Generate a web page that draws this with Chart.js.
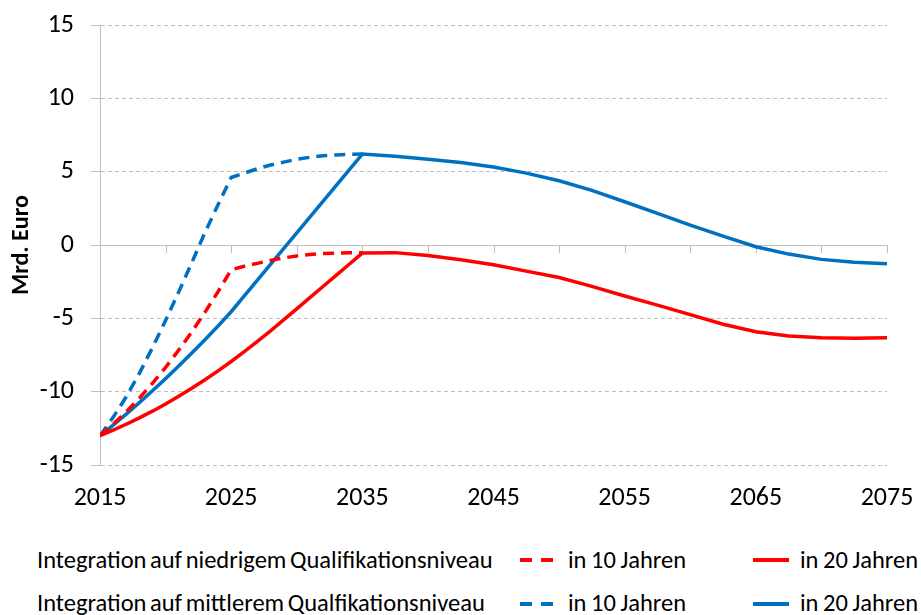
<!DOCTYPE html>
<html lang="de">
<head>
<meta charset="utf-8">
<script src="https://cdn.jsdelivr.net/npm/chart.js@4/dist/chart.umd.min.js"></script>
<style>
  body { margin: 0; background: #fff; font-family: Carlito, Lato, "Liberation Sans", sans-serif; }
  #wrap { position: relative; width: 921px; height: 615px; overflow: hidden; }
  #box { position: absolute; left: 0; top: 0; width: 921px; height: 515px; }
  .lg { position: absolute; font-size: 24.5px; color: #000; white-space: nowrap; line-height: 30px; word-spacing: -1px; }
  .lg.lang { word-spacing: -2px; }
  svg.lg { line-height: 0; }
</style>
</head>
<body>
<div id="wrap">
  <div id="box"><canvas id="chart"></canvas></div>
  <div class="lg lang" style="left:37px; top:545px;">Integration auf niedrigem Qualifikationsniveau</div>
  <svg class="lg" style="left:518px; top:556px;" width="40" height="8"><line x1="2" y1="4" x2="38" y2="4" stroke="#ff0000" stroke-width="4" stroke-dasharray="12,9"/></svg>
  <div class="lg" style="left:568px; top:545px;">in 10 Jahren</div>
  <svg class="lg" style="left:751px; top:556px;" width="40" height="8"><line x1="2" y1="4" x2="38" y2="4" stroke="#ff0000" stroke-width="4"/></svg>
  <div class="lg" style="left:800px; top:545px;">in 20 Jahren</div>

  <div class="lg lang" style="left:37px; top:588px;">Integration auf mittlerem Qualfikationsniveau</div>
  <svg class="lg" style="left:518px; top:600px;" width="40" height="8"><line x1="2" y1="4" x2="38" y2="4" stroke="#0070c0" stroke-width="4" stroke-dasharray="12,9"/></svg>
  <div class="lg" style="left:568px; top:588px;">in 10 Jahren</div>
  <svg class="lg" style="left:751px; top:600px;" width="40" height="8"><line x1="2" y1="4" x2="38" y2="4" stroke="#0070c0" stroke-width="4"/></svg>
  <div class="lg" style="left:800px; top:588px;">in 20 Jahren</div>
</div>
<script>
// Jahre für die 10-Jahres-Varianten (gestrichelt)
const jahre10 = [2015, 2016, 2017, 2018, 2019, 2020, 2021, 2022, 2023, 2024, 2025,
  2026, 2027, 2028, 2029, 2030, 2031, 2032, 2033, 2034, 2035];
// Jahre für die 20-Jahres-Varianten (durchgezogen)
const jahre20 = [2015, 2016, 2017, 2018, 2019, 2020, 2021, 2022, 2023, 2024, 2025,
  2026, 2027, 2028, 2029, 2030, 2031, 2032, 2033, 2034, 2035,
  2037.5, 2040, 2042.5, 2045, 2047.5, 2050, 2052.5, 2055, 2057.5, 2060,
  2062.5, 2065, 2067.5, 2070, 2072.5, 2075];

const niedrig10 = [-13, -12.22, -11.37, -10.44, -9.43, -8.34, -7.17, -5.92, -4.59, -3.18, -1.69,
  -1.45, -1.25, -1.05, -0.88, -0.75, -0.65, -0.58, -0.55, -0.53, -0.52];
const mittel10 = [-13, -11.75, -10.35, -8.75, -7.0, -5.15, -3.2, -1.2, 0.85, 2.75, 4.6,
  4.9, 5.2, 5.45, 5.65, 5.85, 5.98, 6.08, 6.14, 6.18, 6.2];
const niedrig20 = [-13, -12.62, -12.22, -11.79, -11.33, -10.84, -10.32, -9.77, -9.19, -8.58, -7.94,
  -7.27, -6.57, -5.85, -5.11, -4.35, -3.59, -2.83, -2.07, -1.31, -0.55,
  -0.52, -0.72, -1.0, -1.35, -1.78, -2.22, -2.82, -3.48, -4.1, -4.75,
  -5.4, -5.92, -6.2, -6.32, -6.35, -6.32];
const mittel20 = [-13, -12.28, -11.53, -10.75, -9.94, -9.11, -8.25, -7.37, -6.46, -5.52, -4.55,
  -3.47, -2.4, -1.32, -0.25, 0.83, 1.9, 2.98, 4.05, 5.13, 6.2,
  6.05, 5.85, 5.62, 5.32, 4.9, 4.38, 3.72, 2.95, 2.15, 1.35,
  0.6, -0.12, -0.62, -0.98, -1.18, -1.27];

const yTicks = [-15, -10, -5, 0, 5, 10, 15];
const xLabelJahre = [2015, 2025, 2035, 2045, 2055, 2065, 2075];

function punkte(jahre, werte) {
  return jahre.map((j, i) => ({ x: j, y: werte[i] }));
}

const schrift = "Carlito, Lato, 'Liberation Sans', sans-serif";
const rot = '#ff0000';
const blau = '#0070c0';
const grau = '#bfbfbf';

// solide Achse bei 0 mit Teilstrichen alle 5 Jahre
const nullAchse = {
  id: 'nullAchse',
  beforeDatasetsDraw(chart) {
    const ctx = chart.ctx;
    const xs = chart.scales.x;
    const y0 = Math.round(chart.scales.y.getPixelForValue(0));
    ctx.save();
    ctx.strokeStyle = grau;
    ctx.lineWidth = 1;
    ctx.beginPath();
    ctx.moveTo(xs.left, y0 + 0.5);
    ctx.lineTo(xs.right, y0 + 0.5);
    for (let j = 2015; j <= 2075; j += 5) {
      const px = Math.round(xs.getPixelForValue(j)) + 0.5;
      ctx.moveTo(px, y0);
      ctx.lineTo(px, y0 + 8);
    }
    ctx.stroke();
    ctx.restore();
  }
};

const ctx = document.getElementById('chart').getContext('2d');
const chart = new Chart(ctx, {
  type: 'line',
  data: {
    datasets: [
      {
        label: 'niedrig, in 20 Jahren',
        data: punkte(jahre20, niedrig20),
        borderColor: rot,
        borderWidth: 3.5,
        pointRadius: 0,
        fill: false,
      },
      {
        label: 'niedrig, in 10 Jahren',
        data: punkte(jahre10, niedrig10),
        borderColor: rot,
        borderWidth: 3.5,
        borderDash: [11, 7],
        pointRadius: 0,
        fill: false,
      },
      {
        label: 'mittel, in 10 Jahren',
        data: punkte(jahre10, mittel10),
        borderColor: blau,
        borderWidth: 3.5,
        borderDash: [11, 7],
        pointRadius: 0,
        fill: false,
      },
      {
        label: 'mittel, in 20 Jahren',
        data: punkte(jahre20, mittel20),
        borderColor: blau,
        borderWidth: 3.5,
        pointRadius: 0,
        fill: false,
      },
    ],
  },
  options: {
    responsive: true,
    maintainAspectRatio: false,
    animation: false,
    layout: { padding: { top: 25, right: 34, left: 0, bottom: 0 } },
    plugins: {
      legend: { display: false },
      tooltip: { enabled: false },
    },
    scales: {
      x: {
        type: 'linear',
        min: 2015,
        max: 2075,
        afterFit: (s) => { s.height = 50; s.paddingLeft = 0; s.paddingRight = 0; },
        afterBuildTicks: (s) => { s.ticks = xLabelJahre.map(v => ({ value: v })); },
        ticks: {
          autoSkip: false,
          maxRotation: 0,
          padding: 10,
          color: '#000',
          font: { family: schrift, size: 26 },
          callback: (v) => String(v),
        },
        grid: { display: false },
        border: { display: false },
      },
      y: {
        min: -15,
        max: 15,
        afterFit: (s) => { s.width = 100; s.paddingTop = 0; s.paddingBottom = 0; },
        afterBuildTicks: (s) => { s.ticks = yTicks.map(v => ({ value: v })); },
        ticks: {
          padding: 17,
          color: '#000',
          font: { family: schrift, size: 26 },
        },
        grid: {
          color: grau,
          lineWidth: 1,
          tickLength: 9,
          tickColor: grau,
        },
        border: { display: true, color: grau, width: 1, dash: [4, 3] },
        title: {
          display: true,
          text: 'Mrd. Euro',
          color: '#000',
          font: { family: schrift, size: 24, weight: 'bold' },
          padding: { top: 8, bottom: 0 },
        },
      },
    },
  },
  plugins: [nullAchse],
});
</script>
</body>
</html>
